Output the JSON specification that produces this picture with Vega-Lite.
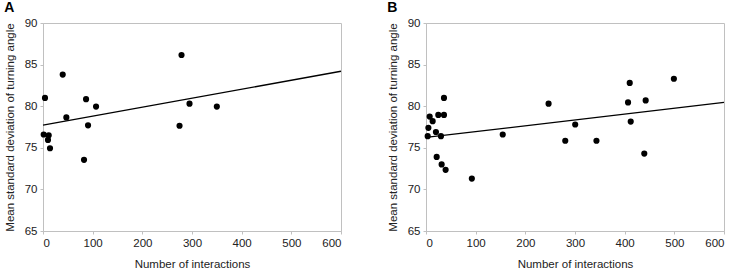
{
  "$schema": "https://vega.github.io/schema/vega-lite/v6.json",
  "background": "white",
  "padding": {"left": 3, "top": 0, "right": 2, "bottom": 0},
  "bounds": "flush",
  "spacing": 85,
  "config": {
    "font": "Liberation Sans",
    "view": {"stroke": "#c0c0c0", "strokeWidth": 1},
    "axis": {
      "grid": false,
      "domainColor": "#c0c0c0",
      "tickColor": "#c0c0c0",
      "tickSize": 3,
      "labelFont": "Liberation Sans",
      "labelFontSize": 11.5,
      "labelColor": "#222",
      "titleFont": "Liberation Sans",
      "titleFontSize": 11.5,
      "titleFontWeight": "normal",
      "titleColor": "#222",
      "labelPadding": 3
    },
    "axisX": {"titlePadding": 10},
    "axisY": {"titlePadding": 9},
    "title": {"font": "Liberation Sans", "fontSize": 14, "fontWeight": "bold", "color": "#000", "anchor": "start", "frame": "bounds", "offset": 2}
  },
  "hconcat": [
    {
      "title": "A",
      "width": 298,
      "height": 208,
      "layer": [
        {
          "data": {"values": [
            {"interactions": 4, "sd": 81.0},
            {"interactions": 39.7, "sd": 83.8},
            {"interactions": 1.4, "sd": 76.6},
            {"interactions": 11.5, "sd": 76.5},
            {"interactions": 10, "sd": 75.95},
            {"interactions": 14.1, "sd": 74.95},
            {"interactions": 47, "sd": 78.65},
            {"interactions": 86.7, "sd": 80.85},
            {"interactions": 106.8, "sd": 79.95},
            {"interactions": 90.7, "sd": 77.7},
            {"interactions": 82.6, "sd": 73.55},
            {"interactions": 278.9, "sd": 86.15},
            {"interactions": 295, "sd": 80.3},
            {"interactions": 350, "sd": 79.95},
            {"interactions": 274.9, "sd": 77.65}
          ]},
          "mark": {"type": "point", "filled": true, "color": "#000", "opacity": 1, "size": 38},
          "encoding": {
            "x": {"field": "interactions", "type": "quantitative", "scale": {"domain": [0, 600], "nice": false, "zero": false}, "axis": {"values": [0, 100, 200, 300, 400, 500, 600], "title": "Number of interactions"}},
            "y": {"field": "sd", "type": "quantitative", "scale": {"domain": [65, 90], "nice": false, "zero": false}, "axis": {"values": [65, 70, 75, 80, 85, 90], "title": "Mean standard deviation of turning angle"}}
          }
        },
        {
          "data": {"values": [
            {"interactions": 0, "sd": 77.72},
            {"interactions": 600, "sd": 84.2}
          ]},
          "mark": {"type": "line", "color": "#000", "strokeWidth": 1.3},
          "encoding": {
            "x": {"field": "interactions", "type": "quantitative"},
            "y": {"field": "sd", "type": "quantitative"}
          }
        }
      ]
    },
    {
      "title": "B",
      "width": 298,
      "height": 208,
      "layer": [
        {
          "data": {"values": [
            {"interactions": 4.8, "sd": 77.4},
            {"interactions": 3.4, "sd": 76.4},
            {"interactions": 7.4, "sd": 78.75},
            {"interactions": 13.4, "sd": 78.2},
            {"interactions": 24.8, "sd": 78.95},
            {"interactions": 36.2, "sd": 78.95},
            {"interactions": 36.2, "sd": 81.0},
            {"interactions": 20, "sd": 76.9},
            {"interactions": 30.1, "sd": 76.4},
            {"interactions": 21.5, "sd": 73.9},
            {"interactions": 31.5, "sd": 73.0},
            {"interactions": 39.5, "sd": 72.35},
            {"interactions": 92.3, "sd": 71.3},
            {"interactions": 154.5, "sd": 76.6},
            {"interactions": 246.8, "sd": 80.3},
            {"interactions": 280.4, "sd": 75.85},
            {"interactions": 300.4, "sd": 77.8},
            {"interactions": 343.2, "sd": 75.85},
            {"interactions": 410.2, "sd": 82.8},
            {"interactions": 406.8, "sd": 80.45},
            {"interactions": 412.2, "sd": 78.15},
            {"interactions": 442.3, "sd": 80.7},
            {"interactions": 439.5, "sd": 74.3},
            {"interactions": 499.1, "sd": 83.3}
          ]},
          "mark": {"type": "point", "filled": true, "color": "#000", "opacity": 1, "size": 38},
          "encoding": {
            "x": {"field": "interactions", "type": "quantitative", "scale": {"domain": [0, 600], "nice": false, "zero": false}, "axis": {"values": [0, 100, 200, 300, 400, 500, 600], "title": "Number of interactions"}},
            "y": {"field": "sd", "type": "quantitative", "scale": {"domain": [65, 90], "nice": false, "zero": false}, "axis": {"values": [65, 70, 75, 80, 85, 90], "title": "Mean standard deviation of turning angle"}}
          }
        },
        {
          "data": {"values": [
            {"interactions": 0, "sd": 76.25},
            {"interactions": 600, "sd": 80.45}
          ]},
          "mark": {"type": "line", "color": "#000", "strokeWidth": 1.3},
          "encoding": {
            "x": {"field": "interactions", "type": "quantitative"},
            "y": {"field": "sd", "type": "quantitative"}
          }
        }
      ]
    }
  ]
}
